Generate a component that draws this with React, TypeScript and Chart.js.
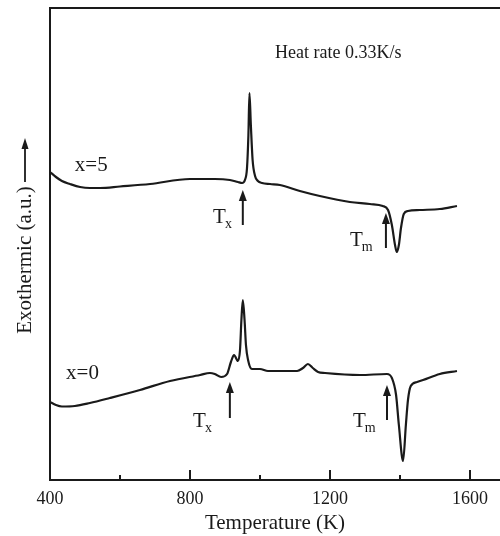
import React, { useEffect, useRef } from "react";
import { Chart, registerables } from "chart.js";

Chart.register(...registerables);

// Temperature (K) and signal (a.u.) for each curve
const T5 = [400, 417, 434, 457, 486, 514, 543, 600, 686, 800, 871, 914, 937, 949, 957, 963, 967, 970, 974, 979, 986, 994, 1006, 1029, 1057, 1114, 1171, 1257, 1314, 1351, 1366, 1377, 1386, 1391, 1397, 1403, 1411, 1423, 1457, 1514, 1563];
const S5 = [308, 303, 299, 296, 293, 292, 292, 293.5, 296, 301, 301, 300, 298, 297, 300, 312, 345, 387, 355, 320, 304, 299, 297, 296, 295, 289, 284, 278, 276, 274, 270, 255, 235, 228, 235, 252, 266, 269, 270, 271, 274];

const T0 = [400, 417, 434, 471, 514, 571, 657, 743, 829, 857, 871, 889, 906, 917, 926, 937, 943, 947, 951, 956, 960, 966, 977, 1000, 1023, 1106, 1123, 1137, 1151, 1166, 1186, 1286, 1363, 1377, 1389, 1397, 1409, 1417, 1423, 1431, 1449, 1466, 1514, 1563];
const S0 = [78, 75, 73.5, 74, 77, 82, 90, 99, 105, 107, 106, 103, 106, 118, 125, 119, 130, 160, 180, 160, 135, 120, 111, 111, 109, 109, 112, 116, 112, 108, 107, 105, 106, 102, 85, 55, 19, 55, 80, 94, 98, 100, 106, 109];

const X_TICKS = [400, 600, 800, 1000, 1200, 1400, 1600];
const X_LABELED = [400, 800, 1200, 1600];

// Arrow markers: temperature, tail signal, tip signal
const ARROWS = [
  { t: 951, from: 255, to: 290 },
  { t: 1360, from: 232, to: 267 },
  { t: 914, from: 62, to: 98 },
  { t: 1363, from: 60, to: 95 },
];
// Labels "T" + subscript: left temperature, baseline signal
const T_LABELS = [
  { main: "T", sub: "x", t: 866, y: 257 },
  { main: "T", sub: "m", t: 1257, y: 234 },
  { main: "T", sub: "x", t: 809, y: 53 },
  { main: "T", sub: "m", t: 1266, y: 53 },
];
const TEXT_LABELS = [
  { text: "x=5", t: 471, y: 315, size: 21 },
  { text: "x=0", t: 446, y: 107, size: 21 },
  { text: "Heat rate 0.33K/s", t: 1043, y: 427, size: 18 },
];

const FONT = "'Liberation Serif', 'Times New Roman', serif";
const INK = "#1a1a1a";

export default function App() {
  const ref = useRef<HTMLCanvasElement | null>(null);
  useEffect(() => {
    if (!ref.current) return;
    const overlay = {
      id: "overlay",
      afterDatasetsDraw(chart: any) {
        const ctx = chart.ctx;
        const xs = chart.scales.x;
        const ys = chart.scales.y;
        const bottom = chart.chartArea.bottom;
        ctx.save();
        ctx.strokeStyle = INK;
        ctx.fillStyle = INK;
        ctx.lineWidth = 2;
        // inward ticks
        X_TICKS.forEach((v) => {
          const px = Math.round(xs.getPixelForValue(v));
          const len = X_LABELED.includes(v) ? 10 : 5;
          ctx.beginPath();
          ctx.moveTo(px, bottom);
          ctx.lineTo(px, bottom - len);
          ctx.stroke();
        });
        // arrows
        const arrow = (x: number, yTail: number, yTip: number, hw: number, hl: number) => {
          ctx.beginPath();
          ctx.moveTo(x, yTail);
          ctx.lineTo(x, yTip + hl - 1);
          ctx.stroke();
          ctx.beginPath();
          ctx.moveTo(x, yTip);
          ctx.lineTo(x - hw / 2, yTip + hl);
          ctx.lineTo(x + hw / 2, yTip + hl);
          ctx.closePath();
          ctx.fill();
        };
        ARROWS.forEach((a) => {
          arrow(xs.getPixelForValue(a.t), ys.getPixelForValue(a.from), ys.getPixelForValue(a.to), 8, 11);
        });
        // T labels
        ctx.textBaseline = "alphabetic";
        ctx.textAlign = "left";
        T_LABELS.forEach((l) => {
          const x = xs.getPixelForValue(l.t);
          const y = ys.getPixelForValue(l.y);
          ctx.font = `21px ${FONT}`;
          ctx.fillText(l.main, x, y);
          const w = ctx.measureText(l.main).width;
          ctx.font = `14px ${FONT}`;
          ctx.fillText(l.sub, x + w - 1, y + 5);
        });
        ctx.textBaseline = "middle";
        TEXT_LABELS.forEach((l) => {
          ctx.font = `${l.size}px ${FONT}`;
          ctx.fillText(l.text, xs.getPixelForValue(l.t), ys.getPixelForValue(l.y));
        });
        // y title with arrow
        ctx.save();
        ctx.translate(25, 260);
        ctx.rotate(-Math.PI / 2);
        ctx.font = `21px ${FONT}`;
        ctx.textAlign = "center";
        ctx.textBaseline = "middle";
        ctx.fillText("Exothermic (a.u.)", 0, 0);
        ctx.restore();
        ctx.lineWidth = 1.8;
        arrow(25, 182, 138, 7, 11);
        ctx.restore();
      },
    };
    const chart = new Chart(ref.current, {
      type: "line",
      data: {
        datasets: [
          {
            label: "x=5",
            data: T5.map((t, i) => ({ x: t, y: S5[i] })),
            borderColor: INK,
            borderWidth: 2.2,
            pointRadius: 0,
            cubicInterpolationMode: "monotone",
            fill: false,
          },
          {
            label: "x=0",
            data: T0.map((t, i) => ({ x: t, y: S0[i] })),
            borderColor: INK,
            borderWidth: 2.2,
            pointRadius: 0,
            cubicInterpolationMode: "monotone",
            fill: false,
          },
        ],
      },
      options: {
        responsive: false,
        animation: false,
        events: [],
        layout: { padding: 0 },
        plugins: { legend: { display: false }, tooltip: { enabled: false }, title: { display: false } },
        scales: {
          x: {
            type: "linear",
            position: "bottom",
            min: 400,
            max: 1686,
            grid: { display: false, drawTicks: false },
            border: { display: true, color: INK, width: 2 },
            ticks: {
              stepSize: 200,
              includeBounds: false,
              autoSkip: false,
              maxRotation: 0,
              padding: 8,
              color: INK,
              font: { family: FONT, size: 18 },
              callback: (v: any) => (X_LABELED.includes(Number(v)) ? String(v) : ""),
            },
            title: {
              display: true,
              text: "Temperature (K)",
              color: INK,
              font: { family: FONT, size: 21 },
              padding: { top: 0, bottom: 0 },
            },
            afterFit: (s: any) => {
              s.height = 56;
            },
          },
          x2: {
            type: "linear",
            position: "top",
            min: 400,
            max: 1686,
            grid: { display: false, drawTicks: false },
            border: { display: true, color: INK, width: 2 },
            ticks: { display: false },
            afterFit: (s: any) => {
              s.height = 8;
            },
          },
          y: {
            type: "linear",
            min: 0,
            max: 472,
            grid: { display: false, drawTicks: false },
            border: { display: true, color: INK, width: 2 },
            ticks: { display: false },
            afterFit: (s: any) => {
              s.width = 50;
            },
          },
        },
      },
      plugins: [overlay],
    });
    return () => chart.destroy();
  }, []);
  return (
    <div style={{ position: "fixed", left: 0, top: 0, width: 500, height: 536, background: "#fff" }}>
      <canvas ref={ref} width={500} height={536} />
    </div>
  );
}
